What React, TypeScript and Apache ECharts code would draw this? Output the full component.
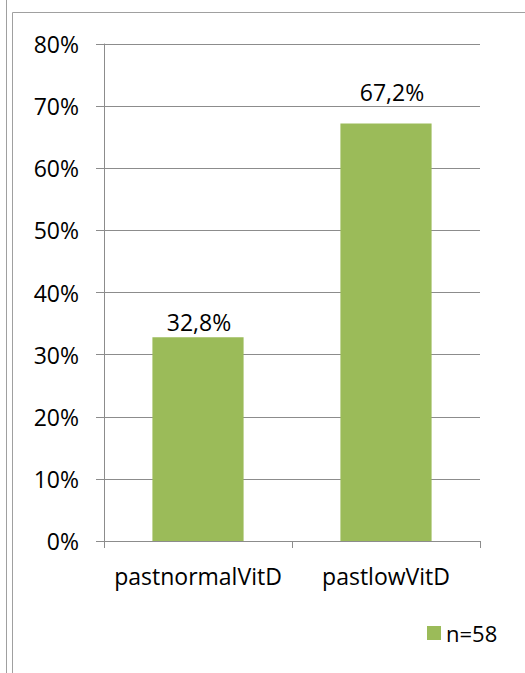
import React, { useEffect, useRef } from "react";
import * as echarts from "echarts";

const categories = ["pastnormalVitD", "pastlowVitD"];
const values = [32.8, 67.2];
const seriesName = "n=58";
const yMax = 80;
const yInterval = 10;

const FONT = "'Open Sans', 'Noto Sans', sans-serif";
const GRAY = "#8c8c8c";
const FS = 23;

// per-bar label placement (as placed in the reference)
const labelDistances = [4, 20];
const labelOffsets = [[1, 0], [6, 0]];

export default function App() {
  const ref = useRef<HTMLDivElement>(null);
  useEffect(() => {
    if (!ref.current) return;
    const chart = echarts.init(ref.current, undefined, { renderer: "svg" });
    chart.setOption({
      animation: false,
      backgroundColor: "#ffffff",
      textStyle: { fontFamily: FONT },
      grid: { left: 104, right: 45, top: 44, bottom: 132, containLabel: false },
      legend: {
        left: 427,
        top: 622,
        padding: 0,
        itemWidth: 14,
        itemHeight: 14,
        icon: "rect",
        data: [seriesName],
        textStyle: { fontFamily: FONT, fontSize: 22, color: "#000" },
      },
      xAxis: {
        type: "category",
        data: categories,
        axisLine: { lineStyle: { color: GRAY, width: 1 } },
        axisTick: { show: true, length: 7, lineStyle: { color: GRAY } },
        axisLabel: {
          interval: 0,
          hideOverlap: false,
          margin: 23,
          fontFamily: FONT,
          fontSize: FS,
          color: "#000",
        },
      },
      yAxis: {
        type: "value",
        min: 0,
        max: yMax,
        interval: yInterval,
        axisLine: { show: true, lineStyle: { color: GRAY, width: 1 } },
        axisTick: { show: true, length: 8, lineStyle: { color: GRAY } },
        splitLine: { show: true, lineStyle: { color: GRAY, width: 1 } },
        axisLabel: {
          margin: 25,
          fontFamily: FONT,
          fontSize: FS,
          color: "#000",
          formatter: "{value}%",
        },
      },
      series: [
        {
          name: seriesName,
          type: "bar",
          data: values.map((v, i) => ({
            value: v,
            label: { distance: labelDistances[i], offset: labelOffsets[i] },
          })),
          barWidth: "48.5%",
          itemStyle: { color: "#9BBB59" },
          label: {
            show: true,
            position: "top",
            fontFamily: FONT,
            fontSize: FS,
            color: "#000",
            formatter: (p: any) => Number(p.value).toFixed(1).replace(".", ",") + "%",
          },
        },
      ],
      graphic: [
        { type: "line", shape: { x1: 6.5, y1: 0, x2: 6.5, y2: 673 }, style: { stroke: "#a0a0a0", lineWidth: 1 } },
        { type: "line", shape: { x1: 12.5, y1: 12.5, x2: 12.5, y2: 673 }, style: { stroke: "#a0a0a0", lineWidth: 1 } },
        { type: "line", shape: { x1: 12.5, y1: 12.5, x2: 525, y2: 12.5 }, style: { stroke: "#a0a0a0", lineWidth: 1 } },
      ],
    });
    return () => chart.dispose();
  }, []);
  return (
    <div
      ref={ref}
      style={{ position: "absolute", left: 0, top: 0, width: 525, height: 673 }}
    />
  );
}
